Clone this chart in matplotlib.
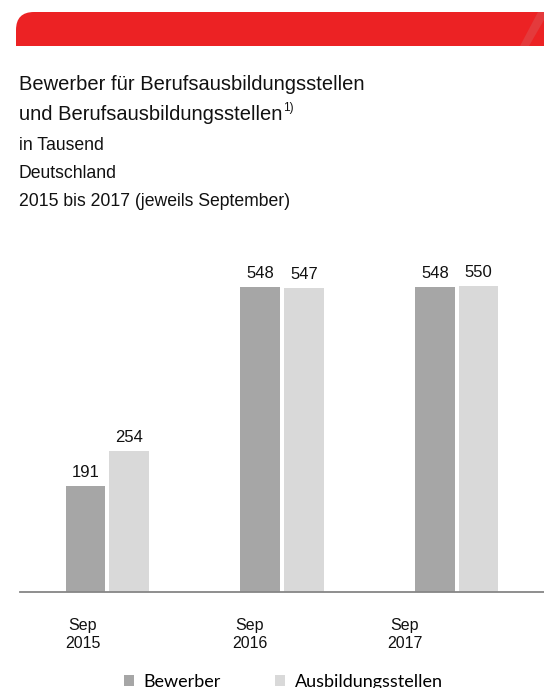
import matplotlib.pyplot as plt
import numpy as np
from matplotlib.patches import PathPatch, Polygon
from matplotlib.path import Path

categories = ["Sep\n2015", "Sep\n2016", "Sep\n2017"]
bewerber = [191, 548, 548]
stellen = [254, 547, 550]
series_names = ["Bewerber", "Ausbildungsstellen"]

title_lines = ["Bewerber für Berufsausbildungsstellen", "und Berufsausbildungsstellen"]
subtitle_lines = ["in Tausend", "Deutschland", "2015 bis 2017 (jeweils September)"]

W, H = 544, 688
plt.rcParams["font.family"] = ["Liberation Sans", "DejaVu Sans"]

fig = plt.figure(figsize=(W / 100, H / 100), dpi=100)


def fx(px):
    return px / W


def fy(py):
    return 1 - py / H


# red header band, top-left corner rounded
r = 18
verts = [(16, 46), (16, 12 + r), (16, 12), (16 + r, 12), (544, 12), (544, 46), (16, 46)]
codes = [Path.MOVETO, Path.LINETO, Path.CURVE3, Path.CURVE3, Path.LINETO, Path.LINETO, Path.CLOSEPOLY]
band = Path([(fx(x), fy(y)) for x, y in verts], codes)
fig.patches.append(PathPatch(band, transform=fig.transFigure, facecolor="#ec2224", edgecolor="none"))

# darker fade at the right end of the band
grad_ax = fig.add_axes([fx(480), fy(46), fx(64), 34 / H])
grad_ax.imshow(np.linspace(0, 1, 64)[None, :] ** 2, cmap="Reds", vmin=-1.6, vmax=1.4, aspect="auto",
               alpha=np.linspace(0, 0.55, 64)[None, :])
grad_ax.axis("off")
fig.patches.append(Polygon([(fx(520), fy(46)), (fx(538), fy(12)), (fx(544), fy(12)), (fx(544), fy(20)), (fx(529), fy(46))],
                           closed=True, transform=fig.transFigure, facecolor="#e43a3c", edgecolor="none", zorder=5))

# titles
fig.text(fx(19), fy(90), title_lines[0], fontsize=14.5, va="baseline", color="#111111")
t2 = fig.text(fx(19), fy(120), title_lines[1], fontsize=14.5, va="baseline", color="#111111")
fig.canvas.draw()
bb = t2.get_window_extent()
fig.text(bb.x1 / W + fx(1), fy(111), "1)", fontsize=8.5, va="baseline", color="#111111")
for y, line in zip([150, 178, 206], subtitle_lines):
    fig.text(fx(19), fy(y), line, fontsize=12.7, va="baseline", color="#111111")

# bars
ax = fig.add_axes([fx(20), fy(592), fx(524), (592 - 250) / H])
x = np.arange(len(categories))
w = 0.228
b1 = ax.bar(x - 0.125, bewerber, w, color="#a6a6a6", label=series_names[0])
b2 = ax.bar(x + 0.125, stellen, w, color="#d9d9d9", label=series_names[1])
for bars, vals in ((b1, bewerber), (b2, stellen)):
    for rect, v in zip(bars, vals):
        ax.annotate(f"{v}", (rect.get_x() + rect.get_width() / 2, v), xytext=(0, 6.5),
                    textcoords="offset points", ha="center", va="baseline", fontsize=12, color="#111111")

ax.set_xlim(-0.5, 2.5)
ax.set_ylim(0, 614.5)
for side in ("top", "right", "left"):
    ax.spines[side].set_visible(False)
ax.spines["bottom"].set_color("#868686")
ax.spines["bottom"].set_linewidth(1.3)
ax.set_yticks([])
tick_pos = [-0.14, 0.816, 1.703]
ax.set_xticks(tick_pos)
ax.set_xticklabels(categories, fontsize=11.5, color="#111111", linespacing=1.2)
ax.tick_params(axis="x", length=0, pad=19)

fig.legend(handles=[b1, b2], loc="center left", bbox_to_anchor=(fx(124), fy(682)), ncol=2, frameon=False,
           borderpad=0, borderaxespad=0,
           handlelength=0.55, handleheight=0.55, handletextpad=0.55, columnspacing=3.0,
           prop={"family": "Lato", "size": 13})

fig.savefig("out.png", dpi=100)
